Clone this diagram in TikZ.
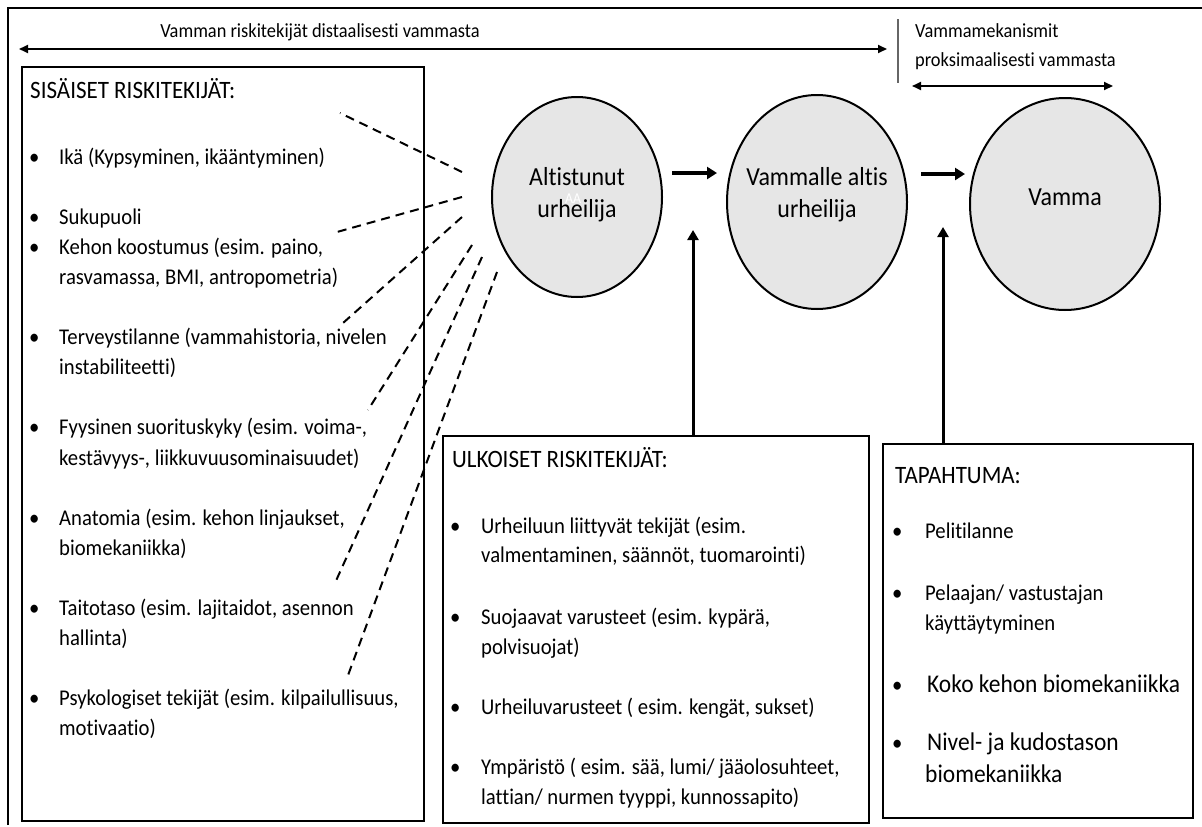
\documentclass[tikz,border=0pt]{standalone}
\usepackage{fontspec}
\setmainfont{Carlito}[FakeStretch=0.92, Ligatures=NoCommon]
\usetikzlibrary{shapes.geometric,arrows.meta}
\definecolor{circfill}{HTML}{E6E6E6}
\tikzset{
  frame/.style={line width=1.5pt, draw=black},
  box/.style={draw=black, line width=2pt, anchor=north west, inner sep=0pt},
  circ/.style={ellipse, draw=black, line width=2pt, fill=circfill, inner sep=0pt},
  txt/.style={anchor=base west, inner sep=0pt, font=\fontsize{22.5}{30}\selectfont},
  ttl/.style={anchor=base west, inner sep=0pt, font=\fontsize{25}{30}\selectfont},
  big/.style={anchor=base west, inner sep=0pt, font=\fontsize{25.5}{30}\selectfont},
  toptxt/.style={inner sep=0pt, font=\fontsize{20}{24}\selectfont},
  ctxt/.style={anchor=base, inner sep=0pt, font=\fontsize{26}{32}\selectfont},
  bul/.style={anchor=base west, inner sep=0pt, font=\fontsize{22.5}{30}\selectfont},
  dashline/.style={line width=2pt, dash pattern=on 9pt off 6pt},
  dblarrow/.style={line width=2pt, {Triangle[length=9pt,width=8pt]}-{Triangle[length=9pt,width=8pt]}},
  fatarrow/.style={line width=3.5pt, -{Triangle[length=10pt,width=12pt]}},
  vertarrow/.style={line width=3pt, -{Triangle[length=10pt,width=11pt]}}
}
\begin{document}
\begin{tikzpicture}[x=1pt,y=-1pt]
\useasboundingbox (0,0) rectangle (1202,827);
\fill[white] (0,0) rectangle (1202,827);
% outer frame (open at right and bottom)
\draw[frame] (8,825) -- (8,8) -- (1202,8);

% top labels
\coordinate (ta1) at (19,49);
\coordinate (ta2) at (887,49);
\draw[dblarrow] (ta1) -- (ta2);
\node[toptxt, anchor=base] (toplbl) at (320,37) {Vamman riskitekijät distaalisesti vammasta};
\coordinate (sep1) at (898,19);
\coordinate (sep2) at (898,83);
\draw[line width=1.5pt, draw=black!60] (sep1) -- (sep2);
\node[toptxt, anchor=base west] (mech1) at (915,37) {Vammamekanismit};
\node[toptxt, anchor=base west] (mech2) at (915,66) {proksimaalisesti vammasta};
\coordinate (tb1) at (912,86);
\coordinate (tb2) at (1113,86);
\draw[dblarrow] (tb1) -- (tb2);

% boxes
\node[box, minimum width=402pt, minimum height=754pt] (sis) at (21,66) {};
\node[box, minimum width=426pt, minimum height=387pt] (ulk) at (442,435) {};
\node[box, minimum width=310pt, minimum height=374pt] (tap) at (882,443) {};

% circles
\node[circ, minimum width=170pt, minimum height=200pt] (c1) at (577,197) {};
\node[circ, minimum width=180pt, minimum height=214pt] (c2) at (817,202) {};
\node[circ, minimum width=190pt, minimum height=212pt] (c3) at (1065,204) {};
\node[ctxt] (c1a) at (577,185) {Altistunut};
\node[ctxt] (c1b) at (577,217) {urheilija};
\node[anchor=base west, inner sep=0pt, text=white, font=\fontsize{15}{18}\selectfont] (c1g) at (565,203) {AA};
\node[ctxt] (c2a) at (817,185) {Vammalle altis};
\node[ctxt] (c2b) at (817,217) {urheilija};
\node[ctxt] (c3a) at (1065,205) {Vamma};

% horizontal arrows
\coordinate (h1s) at (672,173);
\coordinate (h1e) at (717,173);
\draw[fatarrow] (h1s) -- (h1e);
\coordinate (h2s) at (921,174);
\coordinate (h2e) at (965,174);
\draw[fatarrow] (h2s) -- (h2e);

% vertical arrows
\coordinate (v1t) at (693,230);
\coordinate (v2t) at (943,227);
\draw[vertarrow] (ulk.north west -| v1t) -- (v1t);
\draw[vertarrow] (tap.north west -| v2t) -- (v2t);

% dashed lines
\coordinate (p1) at (462,172); \coordinate (q1) at (340,113);
\coordinate (p2) at (462,197); \coordinate (q2) at (337,232);
\coordinate (p3) at (462,217); \coordinate (q3) at (343,323);
\coordinate (p4) at (472,245); \coordinate (q4) at (368,410);
\coordinate (p5) at (482,257); \coordinate (q5) at (335,583);
\coordinate (p6) at (497,272); \coordinate (q6) at (347,678);
\draw[dashline] (p1) -- (q1);
\draw[dashline] (p2) -- (q2);
\draw[dashline] (p3) -- (q3);
\draw[dashline] (p4) -- (q4);
\draw[dashline] (p5) -- (q5);
\draw[dashline] (p6) -- (q6);

% SISAISET text
\node[ttl] (sist) at (30,98) {SISÄISET RISKITEKIJÄT:};
\node[bul] (sb1) at (29,164) {•};
\node[txt] (s1) at (59,164) {Ikä (Kypsyminen, ikääntyminen)};
\node[bul] (sb2) at (29,224) {•};
\node[txt] (s2) at (59,224) {Sukupuoli};
\node[bul] (sb3) at (29,254) {•};
\node[txt] (s3a) at (59,254) {Kehon koostumus (esim. paino,};
\node[txt] (s3b) at (59,284) {rasvamassa, BMI, antropometria)};
\node[bul] (sb4) at (29,344) {•};
\node[txt] (s4a) at (59,344) {Terveystilanne (vammahistoria, nivelen};
\node[txt] (s4b) at (59,374) {instabiliteetti)};
\node[bul] (sb5) at (29,434) {•};
\node[txt] (s5a) at (59,434) {Fyysinen suorituskyky (esim. voima-,};
\node[txt] (s5b) at (59,465) {kestävyys-, liikkuvuusominaisuudet)};
\node[bul] (sb6) at (29,525) {•};
\node[txt] (s6a) at (59,525) {Anatomia (esim. kehon linjaukset,};
\node[txt] (s6b) at (59,555) {biomekaniikka)};
\node[bul] (sb7) at (29,615) {•};
\node[txt] (s7a) at (59,615) {Taitotaso (esim. lajitaidot, asennon};
\node[txt] (s7b) at (59,645) {hallinta)};
\node[bul] (sb8) at (29,705) {•};
\node[txt] (s8a) at (59,705) {Psykologiset tekijät (esim. kilpailullisuus,};
\node[txt] (s8b) at (59,735) {motivaatio)};

% ULKOISET text
\node[ttl] (ulkt) at (452,467) {ULKOISET RISKITEKIJÄT:};
\node[bul] (ub1) at (450,533) {•};
\node[txt] (u1a) at (481,533) {Urheiluun liittyvät tekijät (esim.};
\node[txt] (u1b) at (481,562) {valmentaminen, säännöt, tuomarointi)};
\node[bul] (ub2) at (450,624) {•};
\node[txt] (u2a) at (481,624) {Suojaavat varusteet (esim. kypärä,};
\node[txt] (u2b) at (481,654) {polvisuojat)};
\node[bul] (ub3) at (450,714) {•};
\node[txt] (u3) at (481,714) {Urheiluvarusteet ( esim. kengät, sukset)};
\node[bul] (ub4) at (450,774) {•};
\node[txt] (u4a) at (481,774) {Ympäristö ( esim. sää, lumi/ jääolosuhteet,};
\node[txt] (u4b) at (481,804) {lattian/ nurmen tyyppi, kunnossapito)};

% TAPAHTUMA text
\node[ttl] (tapt) at (895,483) {TAPAHTUMA:};
\node[bul] (tb1b) at (892,538) {•};
\node[txt] (t1) at (925,538) {Pelitilanne};
\node[bul] (tb2b) at (892,600) {•};
\node[txt] (t2a) at (925,600) {Pelaajan/ vastustajan};
\node[txt] (t2b) at (925,630) {käyttäytyminen};
\node[bul] (tb3b) at (892,692) {•};
\node[big] (t3) at (927,692) {Koko kehon biomekaniikka};
\node[bul] (tb4b) at (892,750) {•};
\node[big] (t4a) at (927,750) {Nivel- ja kudostason};
\node[big] (t4b) at (925,782) {biomekaniikka};
\end{tikzpicture}
\end{document}
